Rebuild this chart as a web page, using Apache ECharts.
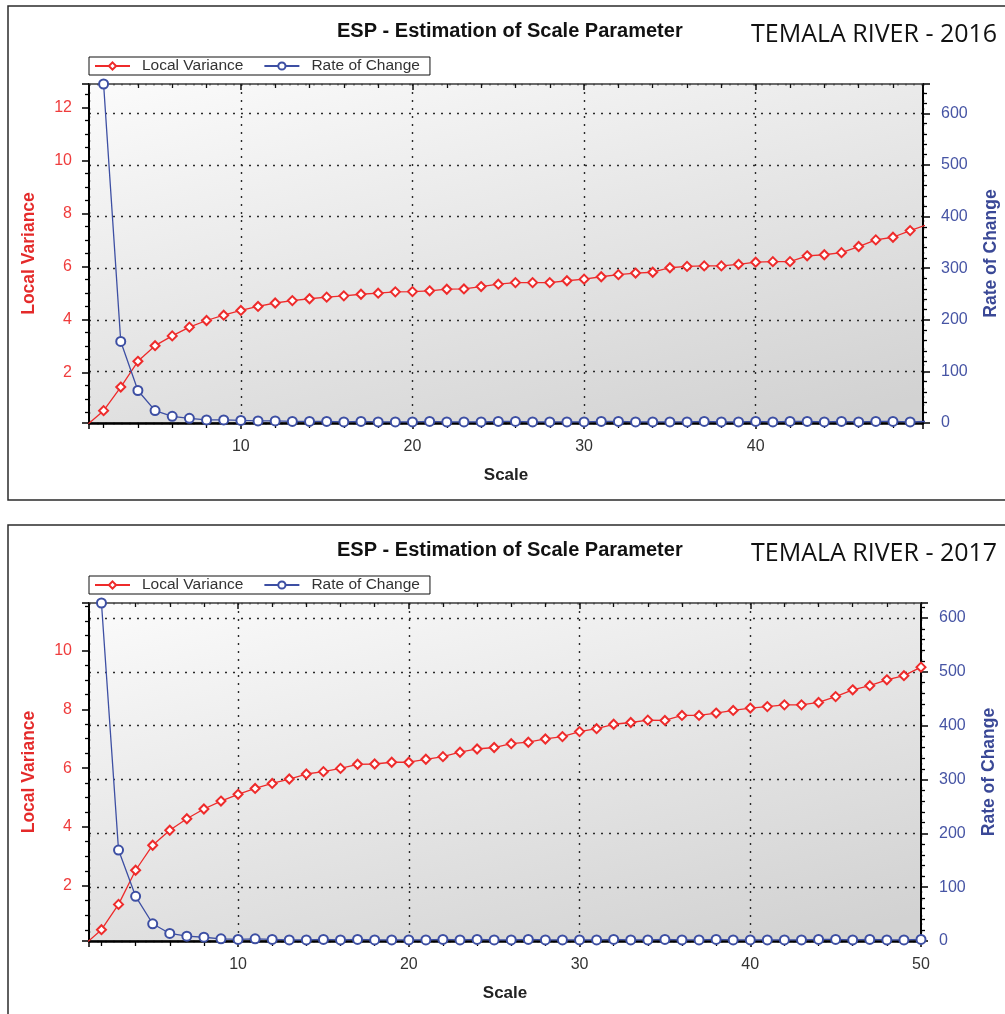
<!DOCTYPE html>
<html>
<head>
<meta charset="utf-8">
<script src="https://cdn.jsdelivr.net/npm/echarts@6/dist/echarts.min.js"></script>
<style>
html,body{margin:0;padding:0;background:#fff;}
#c{width:1005px;height:1014px;}
</style>
</head>
<body>
<div id="c"></div>
<script>
// ---- data ----
const scales = [1,2,3,4,5,6,7,8,9,10,11,12,13,14,15,16,17,18,19,20,21,22,23,24,25,26,27,28,29,30,31,32,33,34,35,36,37,38,39,40,41,42,43,44,45,46,47,48,49,50];

const lv2016 = [0,0.56,1.45,2.42,3.01,3.38,3.71,3.96,4.16,4.34,4.49,4.62,4.71,4.78,4.84,4.89,4.95,4.99,5.04,5.05,5.08,5.14,5.15,5.24,5.33,5.39,5.39,5.39,5.46,5.52,5.61,5.69,5.75,5.78,5.95,6.0,6.02,6.02,6.08,6.16,6.18,6.18,6.40,6.44,6.52,6.75,7.0,7.10,7.35,7.58];
const roc2016 = [null,657,158,63,24,13,9,6,6,5,4,4,3,3,3,2,3,2,2,2,3,2,2,2,3,3,2,2,2,2,3,3,2,2,2,2,3,2,2,3,2,3,3,2,3,2,3,3,2,3];

const lv2017 = [0,0.51,1.37,2.53,3.38,3.89,4.28,4.61,4.88,5.11,5.31,5.48,5.63,5.80,5.88,5.99,6.13,6.14,6.20,6.20,6.30,6.39,6.54,6.65,6.70,6.83,6.88,6.99,7.07,7.24,7.34,7.49,7.55,7.63,7.62,7.79,7.79,7.87,7.96,8.04,8.09,8.15,8.15,8.23,8.43,8.66,8.80,9.00,9.14,9.43];
const roc2017 = [null,628,169,83,32,14,9,7,4,3,4,3,2,2,3,2,3,2,2,2,2,3,2,3,2,2,3,2,2,2,2,3,2,2,3,2,2,3,2,2,2,2,2,3,3,2,3,2,2,3];

const chartTitle = 'ESP - Estimation of Scale Parameter';
const panelLabels = ['TEMALA RIVER - 2016', 'TEMALA RIVER - 2017'];
const seriesNames = ['Local Variance', 'Rate of Change'];
const xName = 'Scale';

// axis extents (auto-ranged axes of the original)
const xRange = [[1.15, 49.75], [1.27, 50]];
const lvRange = [[0.094, 12.88], [0.126, 11.61]];
const rocRange = [[0, 657], [0, 628]];

// ---- style ----
const RED = '#ee2b2b';
const BLUE = '#3d4fa3';
const FONT = '"Liberation Sans", Arial, sans-serif';
const dotted = { type: [2, 6], color: '#2a2a2a', width: 1.4 };

const grids = [
  { left: 89, top: 84, width: 834, height: 339 },
  { left: 89, top: 603, width: 832, height: 338 }
];
const panelTop = [0, 519];

const option = {
  animation: false,
  backgroundColor: '#fff',
  textStyle: { fontFamily: FONT },
  graphic: [
    { type: 'rect', shape: { x: 8, y: 6, width: 1010, height: 494 }, style: { fill: null, stroke: '#2b2b2b', lineWidth: 1.5 }, silent: true },
    { type: 'rect', shape: { x: 8, y: 525, width: 1010, height: 500 }, style: { fill: null, stroke: '#2b2b2b', lineWidth: 1.5 }, silent: true }
  ],
  title: [],
  legend: [],
  grid: [],
  xAxis: [],
  yAxis: [],
  series: []
};

for (let p = 0; p < 2; p++) {
  const t = panelTop[p];
  option.title.push({
    text: chartTitle, left: 337, top: 21 + t, padding: 0,
    textStyle: { fontFamily: FONT, fontSize: 20, fontWeight: 'bold', color: '#111' }
  });
  option.title.push({
    text: panelLabels[p], left: 751, top: 22 + t, padding: 0,
    textStyle: { fontFamily: '"Open Sans", sans-serif', fontSize: 25, fontWeight: 'normal', color: '#111' }
  });
  option.legend.push({
    data: seriesNames, left: 89, top: 57 + t, orient: 'horizontal',
    backgroundColor: '#fff', borderColor: '#111', borderWidth: 1, borderRadius: 0,
    padding: [1, 10, 1, 5], itemGap: 20, itemWidth: 35, itemHeight: 9,
    selectedMode: false,
    textStyle: { fontFamily: FONT, fontSize: 15.5, color: '#333', padding: [0, 0, 0, 7] }
  });
  option.grid.push(Object.assign({
    show: true, borderColor: '#555', borderWidth: 1, outerBoundsMode: 'none', containLabel: false,
    backgroundColor: { type: 'linear', x: 0, y: 0, x2: 0.15, y2: 1.45, colorStops: [ { offset: 0, color: '#fbfbfb' }, { offset: 1, color: '#d2d2d2' } ] }
  }, grids[p]));

  // bottom x axis
  option.xAxis.push({
    type: 'value', gridIndex: p, position: 'bottom', min: xRange[p][0], max: xRange[p][1], splitNumber: 5,
    name: xName, nameLocation: 'middle', nameGap: 44,
    nameTextStyle: { fontFamily: FONT, fontSize: 17, fontWeight: 'bold', color: '#222' },
    axisLine: { show: true, onZero: false, lineStyle: { color: '#000', width: 2.5 } },
    axisTick: { show: true, inside: false, length: 6, lineStyle: { color: '#000', width: 1.5 } },
    minorTick: { show: true, splitNumber: 5, length: 5, lineStyle: { color: '#000', width: 1.3 } },
    axisLabel: { fontFamily: FONT, fontSize: 16, color: '#333', margin: 16, showMinLabel: false, showMaxLabel: p === 1 },
    splitLine: { show: true, lineStyle: dotted }
  });
  // top mirror x axis
  option.xAxis.push({
    type: 'value', gridIndex: p, position: 'top', min: xRange[p][0], max: xRange[p][1], splitNumber: 5,
    axisLine: { show: true, onZero: false, lineStyle: { color: '#555', width: 1.5 } },
    axisTick: { show: true, inside: true, length: 6, lineStyle: { color: '#111', width: 1.5 } },
    minorTick: { show: true, splitNumber: 5, length: 4, lineStyle: { color: '#111', width: 1.3 } },
    axisLabel: { show: false },
    splitLine: { show: false }
  });
  // left axis: Local Variance
  option.yAxis.push({
    type: 'value', gridIndex: p, position: 'left', min: lvRange[p][0], max: lvRange[p][1], splitNumber: 6,
    name: seriesNames[0], nameLocation: 'middle', nameRotate: 90, nameGap: 51,
    nameTextStyle: { fontFamily: FONT, fontSize: 17.5, fontWeight: 'bold', color: '#e42a2a' },
    axisLine: { show: true, onZero: false, lineStyle: { color: '#000', width: 2 } },
    axisTick: { show: true, inside: false, length: 7, lineStyle: { color: '#000', width: 1.5 } },
    minorTick: { show: true, splitNumber: 4, length: 4, lineStyle: { color: '#000', width: 1.3 } },
    axisLabel: { fontFamily: FONT, fontSize: 16, color: '#ef3c3c', margin: 17, showMinLabel: false, showMaxLabel: false },
    splitLine: { show: false }
  });
  // right axis: Rate of Change
  option.yAxis.push({
    type: 'value', gridIndex: p, position: 'right', min: rocRange[p][0], max: rocRange[p][1], splitNumber: 6,
    name: seriesNames[1], nameLocation: 'middle', nameRotate: 90, nameGap: 59,
    nameTextStyle: { fontFamily: FONT, fontSize: 17.5, fontWeight: 'bold', color: '#3a4896' },
    axisLine: { show: true, onZero: false, lineStyle: { color: '#000', width: 2 } },
    axisTick: { show: true, inside: false, length: 7, lineStyle: { color: '#000', width: 1.5 } },
    minorTick: { show: true, splitNumber: 5, length: 4, lineStyle: { color: '#000', width: 1.3 } },
    axisLabel: { fontFamily: FONT, fontSize: 16, color: '#4654a4', margin: 18, showMinLabel: true, showMaxLabel: false },
    splitLine: { show: true, lineStyle: dotted }
  });

  const lv = p === 0 ? lv2016 : lv2017;
  const roc = p === 0 ? roc2016 : roc2017;
  option.series.push({
    name: seriesNames[0], type: 'line', xAxisIndex: 2 * p, yAxisIndex: 2 * p,
    data: scales.map((s, i) => [s, lv[i]]),
    symbol: 'emptyDiamond', symbolSize: 9, showAllSymbol: true, clip: true,
    lineStyle: { color: RED, width: 1.3 },
    itemStyle: { color: RED, borderColor: RED, borderWidth: 1.5 },
    z: 3
  });
  option.series.push({
    name: seriesNames[1], type: 'line', xAxisIndex: 2 * p, yAxisIndex: 2 * p + 1,
    data: scales.map((s, i) => [s, roc[i]]),
    symbol: 'emptyCircle', symbolSize: 9, showAllSymbol: true, clip: true, connectNulls: false,
    lineStyle: { color: BLUE, width: 1.3 },
    itemStyle: { color: BLUE, borderColor: BLUE, borderWidth: 1.5 },
    z: 4
  });
}

const chart = echarts.init(document.getElementById('c'), null, { renderer: 'canvas' });
chart.setOption(option);
</script>
</body>
</html>
